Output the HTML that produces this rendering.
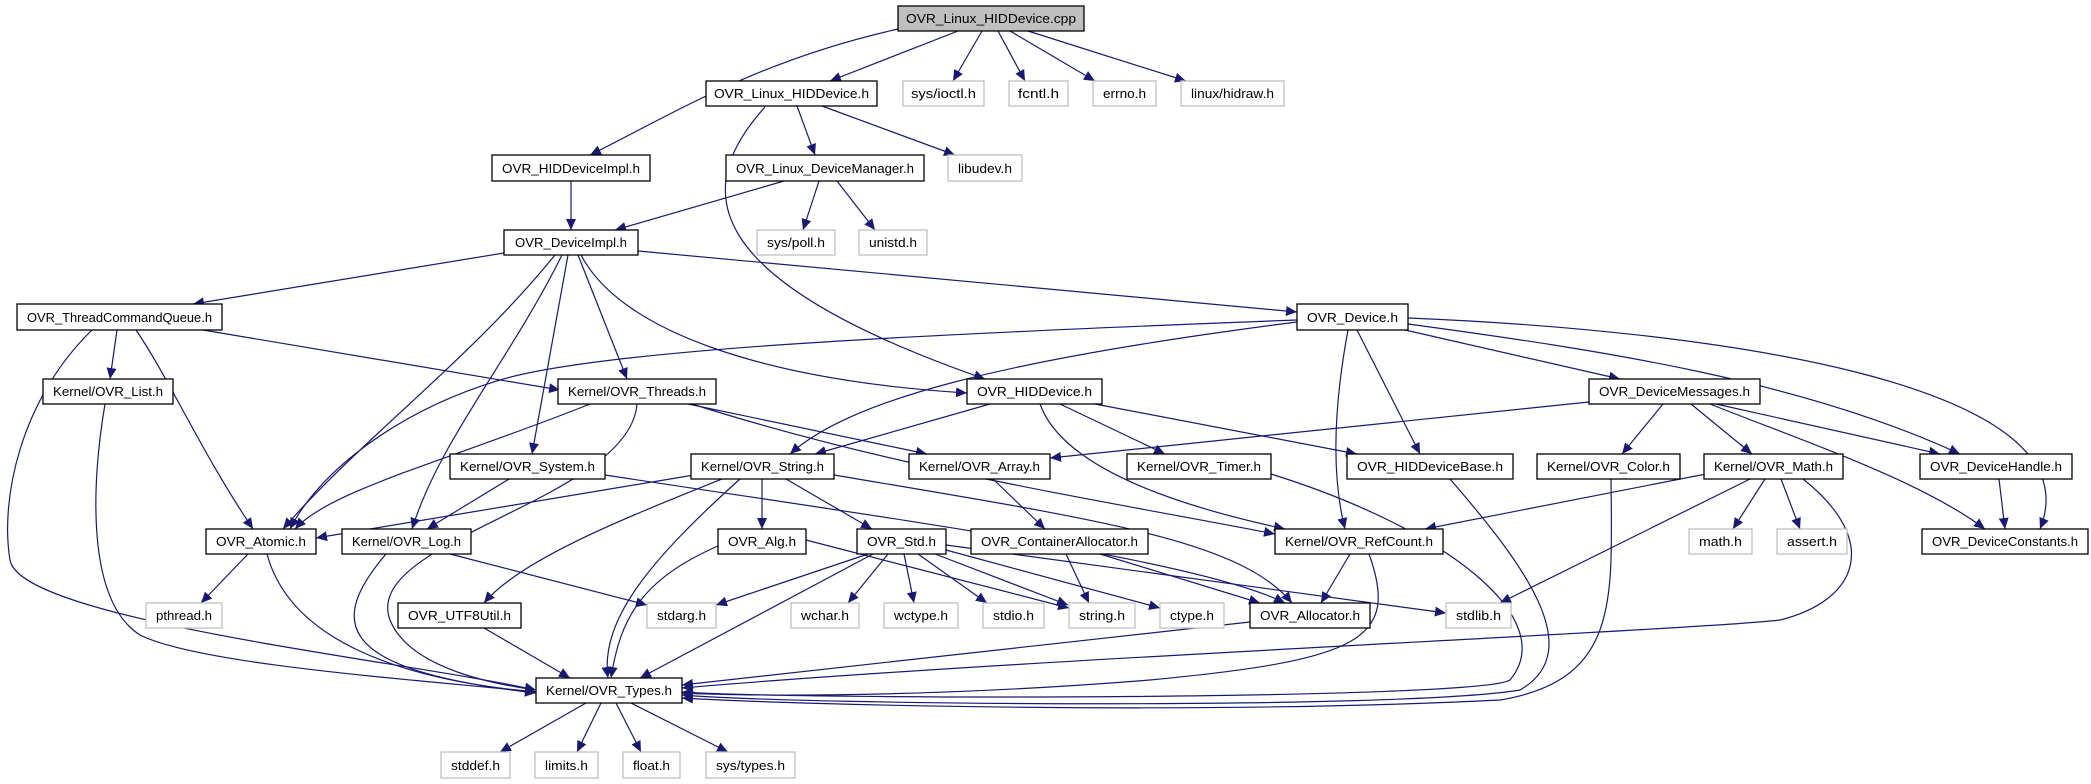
<!DOCTYPE html>
<html><head><meta charset="utf-8"><style>
html,body{margin:0;padding:0;background:#fff}
svg{display:block}
text{font-family:"Liberation Sans",Arial,sans-serif;font-size:12.5px;fill:#000}
.n{fill:#fff;stroke:#000;stroke-width:1.3}
.r{fill:#bfbfbf;stroke:#000;stroke-width:1.3}
.x{fill:#fff;stroke:#bfbfbf;stroke-width:1.3}
.e{fill:none;stroke:#191970;stroke-width:1.2;marker-end:url(#a)}
</style></head><body>
<svg width="2091" height="784" viewBox="0 0 2091 784" xmlns="http://www.w3.org/2000/svg">
<defs><marker id="a" markerUnits="userSpaceOnUse" markerWidth="12" markerHeight="10" refX="11" refY="5" orient="auto"><path d="M0,0 L11,5 L0,10 z" fill="#191970"/></marker></defs>
<g>
<path class="e" d="M958 31 L830 81"/>
<path class="e" d="M982 31 L953 81"/>
<path class="e" d="M998 31 L1025 81"/>
<path class="e" d="M1010 31 L1095 81"/>
<path class="e" d="M1028 31 L1186 81"/>
<path class="e" d="M898 29 C760 60,680 110,590 155"/>
<path class="e" d="M797 106 L815 155"/>
<path class="e" d="M822 106 L955 155"/>
<path class="e" d="M765 107 C690 190,700 280,985 379"/>
<path class="e" d="M571 181 L571 230"/>
<path class="e" d="M784 181 L615 230"/>
<path class="e" d="M819 181 L803 230"/>
<path class="e" d="M837 181 L875 230"/>
<path class="e" d="M504 253 L193 304"/>
<path class="e" d="M638 251 L1297 312"/>
<path class="e" d="M555 255 C470 360,360 440,283 529"/>
<path class="e" d="M562 255 C510 360,440 440,412 529"/>
<path class="e" d="M568 255 L532 454"/>
<path class="e" d="M578 255 L627 379"/>
<path class="e" d="M581 255 C620 330,760 380,967 393"/>
<path class="e" d="M117 330 L110 379"/>
<path class="e" d="M136 330 C170 380,200 450,253 529"/>
<path class="e" d="M92 330 C20 400,0 500,10 560 C20 620,400 660,536 690"/>
<path class="e" d="M203 330 L560 390"/>
<path class="e" d="M105 404 C92 480,85 600,140 635 C200 665,420 680,536 692"/>
<path class="e" d="M590 404 C450 460,330 490,295 529"/>
<path class="e" d="M637 404 C630 500,360 540,390 620 C410 670,500 685,536 690"/>
<path class="e" d="M688 404 L927 454"/>
<path class="e" d="M692 404 C900 470,1100 500,1275 534"/>
<path class="e" d="M1297 320 C900 335,600 350,500 380 C400 410,320 470,290 529"/>
<path class="e" d="M1297 322 C1000 360,850 400,790 454"/>
<path class="e" d="M1357 330 L1420 454"/>
<path class="e" d="M1348 330 C1335 400,1330 470,1345 529"/>
<path class="e" d="M1405 330 L1620 379"/>
<path class="e" d="M1408 324 C1600 350,1800 380,1960 454"/>
<path class="e" d="M1408 318 C1700 330,2100 380,2040 529"/>
<path class="e" d="M990 404 L815 454"/>
<path class="e" d="M1060 404 L1165 454"/>
<path class="e" d="M1095 404 L1357 454"/>
<path class="e" d="M1040 404 C1060 460,1150 500,1285 529"/>
<path class="e" d="M1589 402 L1050 458"/>
<path class="e" d="M1663 404 L1622 454"/>
<path class="e" d="M1691 404 L1752 454"/>
<path class="e" d="M1716 404 L1940 454"/>
<path class="e" d="M1710 404 C1800 440,1920 480,1985 529"/>
<path class="e" d="M509 479 L427 529"/>
<path class="e" d="M605 475 C900 520,1200 560,1285 603"/>
<path class="e" d="M700 474 L316 538"/>
<path class="e" d="M722 479 C620 520,520 560,484 603"/>
<path class="e" d="M740 479 C650 560,600 620,608 678"/>
<path class="e" d="M762 479 L762 529"/>
<path class="e" d="M786 479 L872 529"/>
<path class="e" d="M834 475 C1100 520,1240 540,1292 603"/>
<path class="e" d="M993 479 L1045 529"/>
<path class="e" d="M1271 474 C1450 530,1560 620,1510 680 C1480 700,800 700,682 692"/>
<path class="e" d="M1450 479 C1520 560,1590 650,1520 690 C1400 710,800 705,682 695"/>
<path class="e" d="M1611 479 C1612 600,1620 680,1500 700 C1200 715,800 705,682 698"/>
<path class="e" d="M1706 474 L1425 529"/>
<path class="e" d="M1750 479 L1500 603"/>
<path class="e" d="M1765 479 L1733 529"/>
<path class="e" d="M1781 479 L1800 529"/>
<path class="e" d="M1803 479 C1880 540,1860 600,1780 620 C1700 630,1000 660,682 688"/>
<path class="e" d="M1999 479 L2005 529"/>
<path class="e" d="M248 554 L201 603"/>
<path class="e" d="M267 554 C290 640,400 680,536 692"/>
<path class="e" d="M450 554 L647 605"/>
<path class="e" d="M386 554 C330 620,330 670,536 693"/>
<path class="e" d="M806 540 L1069 608"/>
<path class="e" d="M718 546 C640 580,620 620,611 678"/>
<path class="e" d="M868 554 L716 605"/>
<path class="e" d="M873 554 L640 678"/>
<path class="e" d="M888 554 L848 603"/>
<path class="e" d="M904 554 L914 603"/>
<path class="e" d="M918 554 L987 603"/>
<path class="e" d="M935 554 L1068 605"/>
<path class="e" d="M946 550 L1160 608"/>
<path class="e" d="M946 545 L1446 613"/>
<path class="e" d="M1066 554 L1089 603"/>
<path class="e" d="M1100 554 L1260 603"/>
<path class="e" d="M1350 554 L1321 603"/>
<path class="e" d="M1369 554 C1400 640,1360 660,1150 680 C900 700,720 695,682 693"/>
<path class="e" d="M1250 622 L682 685"/>
<path class="e" d="M484 628 L570 678"/>
<path class="e" d="M586 703 L500 752"/>
<path class="e" d="M601 703 L577 752"/>
<path class="e" d="M616 703 L641 752"/>
<path class="e" d="M631 703 L728 752"/>
</g>
<g>
<rect class="r" x="898" y="6" width="186" height="25"/><text x="906" y="23" textLength="170" lengthAdjust="spacingAndGlyphs">OVR_Linux_HIDDevice.cpp</text>
<rect class="n" x="706" y="81" width="171" height="25"/><text x="714" y="98" textLength="155" lengthAdjust="spacingAndGlyphs">OVR_Linux_HIDDevice.h</text>
<rect class="x" x="903" y="81" width="81" height="25"/><text x="911" y="98" textLength="65" lengthAdjust="spacingAndGlyphs">sys/ioctl.h</text>
<rect class="x" x="1009" y="81" width="59" height="25"/><text x="1018" y="98" textLength="41" lengthAdjust="spacingAndGlyphs">fcntl.h</text>
<rect class="x" x="1093" y="81" width="63" height="25"/><text x="1103" y="98" textLength="43" lengthAdjust="spacingAndGlyphs">errno.h</text>
<rect class="x" x="1181" y="81" width="103" height="25"/><text x="1191" y="98" textLength="83" lengthAdjust="spacingAndGlyphs">linux/hidraw.h</text>
<rect class="n" x="492" y="155" width="158" height="26"/><text x="502" y="173" textLength="138" lengthAdjust="spacingAndGlyphs">OVR_HIDDeviceImpl.h</text>
<rect class="n" x="726" y="155" width="198" height="26"/><text x="736" y="173" textLength="178" lengthAdjust="spacingAndGlyphs">OVR_Linux_DeviceManager.h</text>
<rect class="x" x="948" y="155" width="74" height="26"/><text x="958" y="173" textLength="54" lengthAdjust="spacingAndGlyphs">libudev.h</text>
<rect class="n" x="504" y="230" width="134" height="25"/><text x="515" y="247" textLength="112" lengthAdjust="spacingAndGlyphs">OVR_DeviceImpl.h</text>
<rect class="x" x="757" y="230" width="78" height="25"/><text x="767" y="247" textLength="58" lengthAdjust="spacingAndGlyphs">sys/poll.h</text>
<rect class="x" x="859" y="230" width="68" height="25"/><text x="869" y="247" textLength="48" lengthAdjust="spacingAndGlyphs">unistd.h</text>
<rect class="n" x="17" y="304" width="205" height="26"/><text x="27" y="322" textLength="185" lengthAdjust="spacingAndGlyphs">OVR_ThreadCommandQueue.h</text>
<rect class="n" x="1297" y="304" width="111" height="26"/><text x="1307" y="322" textLength="91" lengthAdjust="spacingAndGlyphs">OVR_Device.h</text>
<rect class="n" x="43" y="379" width="130" height="25"/><text x="53" y="396" textLength="110" lengthAdjust="spacingAndGlyphs">Kernel/OVR_List.h</text>
<rect class="n" x="558" y="379" width="158" height="25"/><text x="568" y="396" textLength="138" lengthAdjust="spacingAndGlyphs">Kernel/OVR_Threads.h</text>
<rect class="n" x="967" y="379" width="135" height="25"/><text x="977" y="396" textLength="115" lengthAdjust="spacingAndGlyphs">OVR_HIDDevice.h</text>
<rect class="n" x="1589" y="379" width="171" height="25"/><text x="1599" y="396" textLength="151" lengthAdjust="spacingAndGlyphs">OVR_DeviceMessages.h</text>
<rect class="n" x="450" y="454" width="155" height="25"/><text x="460" y="471" textLength="135" lengthAdjust="spacingAndGlyphs">Kernel/OVR_System.h</text>
<rect class="n" x="691" y="454" width="143" height="25"/><text x="701" y="471" textLength="123" lengthAdjust="spacingAndGlyphs">Kernel/OVR_String.h</text>
<rect class="n" x="909" y="454" width="141" height="25"/><text x="919" y="471" textLength="121" lengthAdjust="spacingAndGlyphs">Kernel/OVR_Array.h</text>
<rect class="n" x="1127" y="454" width="144" height="25"/><text x="1137" y="471" textLength="124" lengthAdjust="spacingAndGlyphs">Kernel/OVR_Timer.h</text>
<rect class="n" x="1347" y="454" width="166" height="25"/><text x="1357" y="471" textLength="146" lengthAdjust="spacingAndGlyphs">OVR_HIDDeviceBase.h</text>
<rect class="n" x="1537" y="454" width="143" height="25"/><text x="1547" y="471" textLength="123" lengthAdjust="spacingAndGlyphs">Kernel/OVR_Color.h</text>
<rect class="n" x="1704" y="454" width="139" height="25"/><text x="1714" y="471" textLength="119" lengthAdjust="spacingAndGlyphs">Kernel/OVR_Math.h</text>
<rect class="n" x="1920" y="454" width="152" height="25"/><text x="1930" y="471" textLength="132" lengthAdjust="spacingAndGlyphs">OVR_DeviceHandle.h</text>
<rect class="n" x="206" y="529" width="110" height="25"/><text x="216" y="546" textLength="90" lengthAdjust="spacingAndGlyphs">OVR_Atomic.h</text>
<rect class="n" x="342" y="529" width="129" height="25"/><text x="352" y="546" textLength="109" lengthAdjust="spacingAndGlyphs">Kernel/OVR_Log.h</text>
<rect class="n" x="718" y="529" width="88" height="25"/><text x="728" y="546" textLength="68" lengthAdjust="spacingAndGlyphs">OVR_Alg.h</text>
<rect class="n" x="857" y="529" width="89" height="25"/><text x="867" y="546" textLength="69" lengthAdjust="spacingAndGlyphs">OVR_Std.h</text>
<rect class="n" x="971" y="529" width="177" height="25"/><text x="981" y="546" textLength="157" lengthAdjust="spacingAndGlyphs">OVR_ContainerAllocator.h</text>
<rect class="n" x="1275" y="529" width="168" height="25"/><text x="1285" y="546" textLength="148" lengthAdjust="spacingAndGlyphs">Kernel/OVR_RefCount.h</text>
<rect class="x" x="1689" y="529" width="63" height="25"/><text x="1699" y="546" textLength="43" lengthAdjust="spacingAndGlyphs">math.h</text>
<rect class="x" x="1777" y="529" width="70" height="25"/><text x="1787" y="546" textLength="50" lengthAdjust="spacingAndGlyphs">assert.h</text>
<rect class="n" x="1922" y="529" width="166" height="25"/><text x="1932" y="546" textLength="146" lengthAdjust="spacingAndGlyphs">OVR_DeviceConstants.h</text>
<rect class="x" x="146" y="603" width="76" height="25"/><text x="156" y="620" textLength="56" lengthAdjust="spacingAndGlyphs">pthread.h</text>
<rect class="n" x="398" y="603" width="123" height="25"/><text x="408" y="620" textLength="103" lengthAdjust="spacingAndGlyphs">OVR_UTF8Util.h</text>
<rect class="x" x="647" y="603" width="69" height="25"/><text x="657" y="620" textLength="49" lengthAdjust="spacingAndGlyphs">stdarg.h</text>
<rect class="x" x="791" y="603" width="68" height="25"/><text x="801" y="620" textLength="48" lengthAdjust="spacingAndGlyphs">wchar.h</text>
<rect class="x" x="884" y="603" width="74" height="25"/><text x="894" y="620" textLength="54" lengthAdjust="spacingAndGlyphs">wctype.h</text>
<rect class="x" x="983" y="603" width="61" height="25"/><text x="993" y="620" textLength="41" lengthAdjust="spacingAndGlyphs">stdio.h</text>
<rect class="x" x="1069" y="603" width="66" height="25"/><text x="1079" y="620" textLength="46" lengthAdjust="spacingAndGlyphs">string.h</text>
<rect class="x" x="1160" y="603" width="64" height="25"/><text x="1170" y="620" textLength="44" lengthAdjust="spacingAndGlyphs">ctype.h</text>
<rect class="n" x="1250" y="603" width="120" height="25"/><text x="1260" y="620" textLength="100" lengthAdjust="spacingAndGlyphs">OVR_Allocator.h</text>
<rect class="x" x="1446" y="603" width="65" height="25"/><text x="1456" y="620" textLength="45" lengthAdjust="spacingAndGlyphs">stdlib.h</text>
<rect class="n" x="536" y="678" width="146" height="25"/><text x="546" y="695" textLength="126" lengthAdjust="spacingAndGlyphs">Kernel/OVR_Types.h</text>
<rect class="x" x="441" y="752" width="69" height="26"/><text x="451" y="770" textLength="49" lengthAdjust="spacingAndGlyphs">stddef.h</text>
<rect class="x" x="535" y="752" width="63" height="26"/><text x="545" y="770" textLength="43" lengthAdjust="spacingAndGlyphs">limits.h</text>
<rect class="x" x="623" y="752" width="57" height="26"/><text x="633" y="770" textLength="37" lengthAdjust="spacingAndGlyphs">float.h</text>
<rect class="x" x="706" y="752" width="89" height="26"/><text x="716" y="770" textLength="69" lengthAdjust="spacingAndGlyphs">sys/types.h</text>
</g>
</svg>
</body></html>
